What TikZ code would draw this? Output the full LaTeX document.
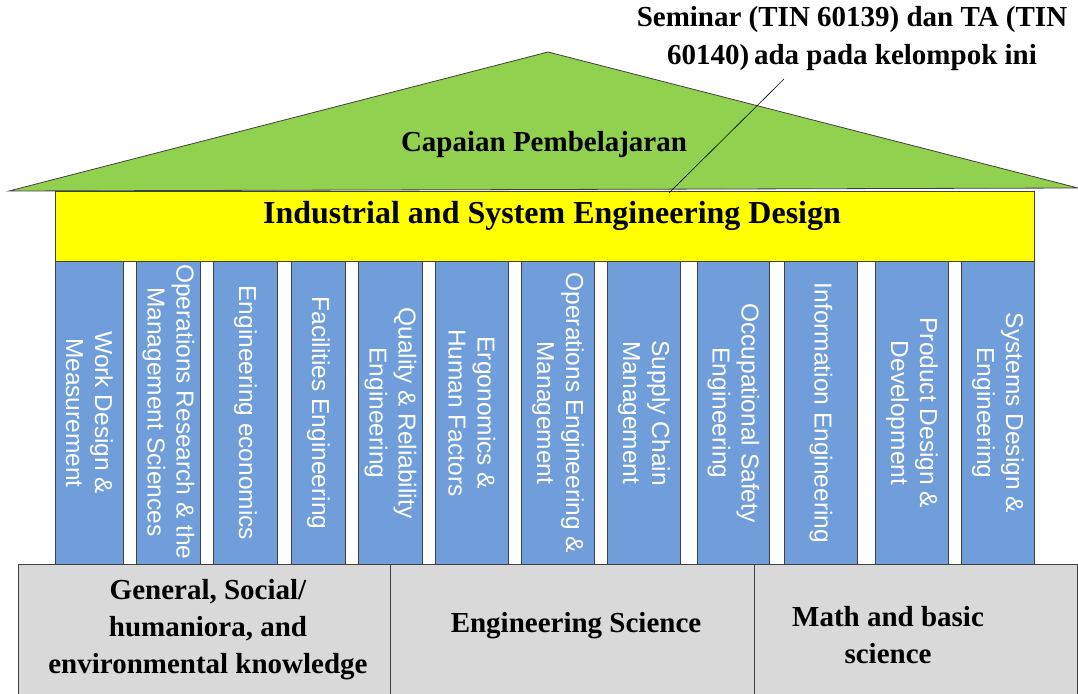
\documentclass[tikz,border=0pt]{standalone}
\usepackage{fontspec}
\setmainfont{Liberation Serif}
\newfontfamily\pillarfont{Liberation Sans}
\definecolor{roofgreen}{HTML}{92D050}
\definecolor{beamyellow}{HTML}{FFFF00}
\definecolor{pillarblue}{HTML}{6F9EDA}
\definecolor{basegray}{HTML}{D9D9D9}
\definecolor{edgegray}{HTML}{404040}
\begin{document}
\begin{tikzpicture}[x=1pt,y=-1pt,
  roof/.style={fill=roofgreen,draw=edgegray,line width=0.8pt},
  beam/.style={fill=beamyellow,draw=edgegray,line width=0.8pt,inner sep=0pt,anchor=north west},
  pillar/.style={fill=pillarblue,draw=edgegray,line width=0.8pt,inner sep=0pt,anchor=north west,minimum height=303pt},
  ptext/.style={text=white,font=\pillarfont\fontsize{24.5}{29}\selectfont,align=center,rotate=-90,inner sep=0pt},
  basebox/.style={fill=basegray,draw=edgegray,line width=0.8pt,inner sep=0pt,anchor=north west,minimum height=140pt},
  btext/.style={font=\bfseries\fontsize{29}{37}\selectfont,align=center,inner sep=0pt},
  callout/.style={draw=black,line width=0.6pt}]
\useasboundingbox (0,0) rectangle (1078,693);

% roof
\draw[roof] (9,191) -- (548,52) -- (1078,188) -- cycle;
\node[btext] (cp) at (544,145) {Capaian Pembelajaran};

% beam
\node[beam,minimum width=979pt,minimum height=70pt] (beam) at (55,191) {};
\node[btext,font=\bfseries\fontsize{32}{38}\selectfont] (isd) at (552,216) {Industrial and System Engineering Design};

% pillars
\node[pillar,minimum width=68pt] (p1) at (55,261) {};
\node[pillar,minimum width=64pt] (p2) at (136,261) {};
\node[pillar,minimum width=64pt] (p3) at (213,261) {};
\node[pillar,minimum width=54pt] (p4) at (291,261) {};
\node[pillar,minimum width=64pt] (p5) at (358,261) {};
\node[pillar,minimum width=73pt] (p6) at (435,261) {};
\node[pillar,minimum width=73pt] (p7) at (521,261) {};
\node[pillar,minimum width=73pt] (p8) at (607,261) {};
\node[pillar,minimum width=72pt] (p9) at (697,261) {};
\node[pillar,minimum width=73pt] (p10) at (784,261) {};
\node[pillar,minimum width=73pt] (p11) at (875,261) {};
\node[pillar,minimum width=73pt] (p12) at (961,261) {};

\node[ptext] (t1) at (p1.center) {Work Design \&\\Measurement};
\node[ptext] (t2) at ([yshift=1pt]p2.center) {Operations Research \& the\\Management Sciences};
\node[ptext] (t3) at (p3.center) {Engineering economics};
\node[ptext] (t4) at (p4.center) {Facilities Engineering};
\node[ptext] (t5) at (p5.center) {Quality \& Reliability\\Engineering};
\node[ptext] (t6) at (p6.center) {Ergonomics \&\\Human Factors};
\node[ptext] (t7) at (p7.center) {Operations Engineering \&\\Management};
\node[ptext] (t8) at (p8.center) {Supply Chain\\Management};
\node[ptext] (t9) at (p9.center) {Occupational Safety\\Engineering};
\node[ptext] (t10) at (p10.center) {Information Engineering};
\node[ptext] (t11) at (p11.center) {Product Design \&\\Development};
\node[ptext] (t12) at (p12.center) {Systems Design \&\\Engineering};

% base
\node[basebox,minimum width=372pt] (b1) at (18,564) {};
\node[basebox,minimum width=364pt] (b2) at (390,564) {};
\node[basebox,minimum width=323pt] (b3) at (754,564) {};
\node[btext] (bt1) at (208,630) {General, Social/\\humaniora, and\\environmental knowledge};
\node[btext] (bt2) at (576,626) {Engineering Science};
\node[btext] (bt3) at (888,635) {Math and basic\\science};

% callout
\node[font=\bfseries\fontsize{29}{38}\selectfont,align=center,inner sep=0pt] (note) at (852,39) {Seminar (TIN 60139) dan TA (TIN\\60140)\,ada pada kelompok ini};
\coordinate (tip) at (669,193);
\coordinate (lineend) at (784,79);
\draw[callout] (tip) -- (lineend);
\end{tikzpicture}
\end{document}
